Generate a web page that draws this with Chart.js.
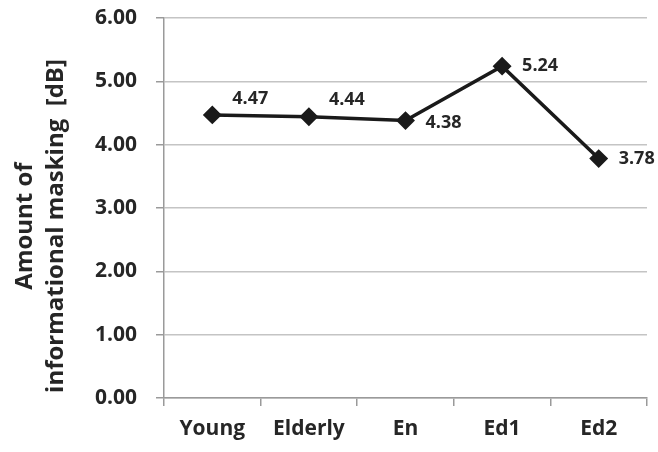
<!DOCTYPE html>
<html>
<head>
<meta charset="utf-8">
<script src="https://cdn.jsdelivr.net/npm/chart.js@4/dist/chart.umd.min.js"></script>
<style>
  html, body { margin: 0; padding: 0; background: #fff; }
  #wrap { width: 658px; height: 452px; position: relative; }
</style>
</head>
<body>
<div id="wrap"><canvas id="c" width="658" height="452"></canvas></div>
<script>
const categories = ["Young", "Elderly", "En", "Ed1", "Ed2"];
const maskingValues = [4.47, 4.44, 4.38, 5.24, 3.78];
const yTickLabels = ["0.00", "1.00", "2.00", "3.00", "4.00", "5.00", "6.00"];
const yTitleLines = ["Amount of", "informational masking  [dB]"];

// label placement style (pixels, relative to each point)
const labelDX = 20;
const labelDY = [-16, -17, 2, 0, 0];

const FONT = "'Open Sans', 'DejaVu Sans', sans-serif";
const TEXT = "#262626";

const labelPlugin = {
  id: "valueLabels",
  afterDatasetsDraw(chart) {
    const ctx = chart.ctx;
    const meta = chart.getDatasetMeta(0);
    ctx.save();
    ctx.font = "bold 18px " + FONT;
    ctx.fillStyle = TEXT;
    ctx.textAlign = "left";
    ctx.textBaseline = "middle";
    meta.data.forEach((pt, i) => {
      ctx.fillText(maskingValues[i].toFixed(2), pt.x + labelDX, pt.y + labelDY[i]);
    });
    ctx.restore();
  }
};

const yTitlePlugin = {
  id: "yTitle",
  afterDraw(chart) {
    const ctx = chart.ctx;
    ctx.save();
    ctx.font = "bold 24px " + FONT;
    ctx.fillStyle = TEXT;
    ctx.textAlign = "center";
    ctx.textBaseline = "middle";
    const cy = chart.height / 2;
    const xs = [25, 56];
    yTitleLines.forEach((line, i) => {
      ctx.save();
      ctx.translate(xs[i], cy);
      ctx.rotate(-Math.PI / 2);
      ctx.fillText(line, 0, 0);
      ctx.restore();
    });
    ctx.restore();
  }
};

new Chart(document.getElementById("c"), {
  type: "line",
  data: {
    labels: categories,
    datasets: [{
      data: maskingValues,
      borderColor: "#1a1a1a",
      backgroundColor: "#1a1a1a",
      borderWidth: 3.5,
      pointStyle: "rectRot",
      pointRadius: 7,
      pointHoverRadius: 7,
      tension: 0,
      fill: false
    }]
  },
  options: {
    responsive: false,
    animation: false,
    devicePixelRatio: 1,
    layout: { padding: { top: 18, right: 11, left: 0, bottom: 0 } },
    plugins: { legend: { display: false }, tooltip: { enabled: false } },
    scales: {
      x: {
        offset: true,
        grid: { display: true, drawOnChartArea: false, offset: true, color: "#9a9a9a", tickLength: 8, lineWidth: 1.5 },
        border: { color: "#9a9a9a", width: 1.5 },
        ticks: { color: TEXT, font: { family: FONT, size: 21, weight: "bold" }, padding: 10, maxRotation: 0 },
        afterFit(scale) { scale.height = 54; scale.paddingLeft = 0; scale.paddingRight = 0; }
      },
      y: {
        min: 0, max: 6,
        grid: { color: "#c4c4c4", lineWidth: 1.5, tickLength: 8, tickColor: "#9a9a9a" },
        border: { color: "#9a9a9a", width: 1.5 },
        ticks: {
          stepSize: 1,
          color: TEXT,
          padding: 19,
          font: { family: FONT, size: 21, weight: "bold" },
          callback: (v, i) => yTickLabels[i]
        },
        afterFit(scale) { scale.width = 164; scale.paddingTop = 0; scale.paddingBottom = 0; }
      }
    }
  },
  plugins: [labelPlugin, yTitlePlugin]
});
</script>
</body>
</html>
